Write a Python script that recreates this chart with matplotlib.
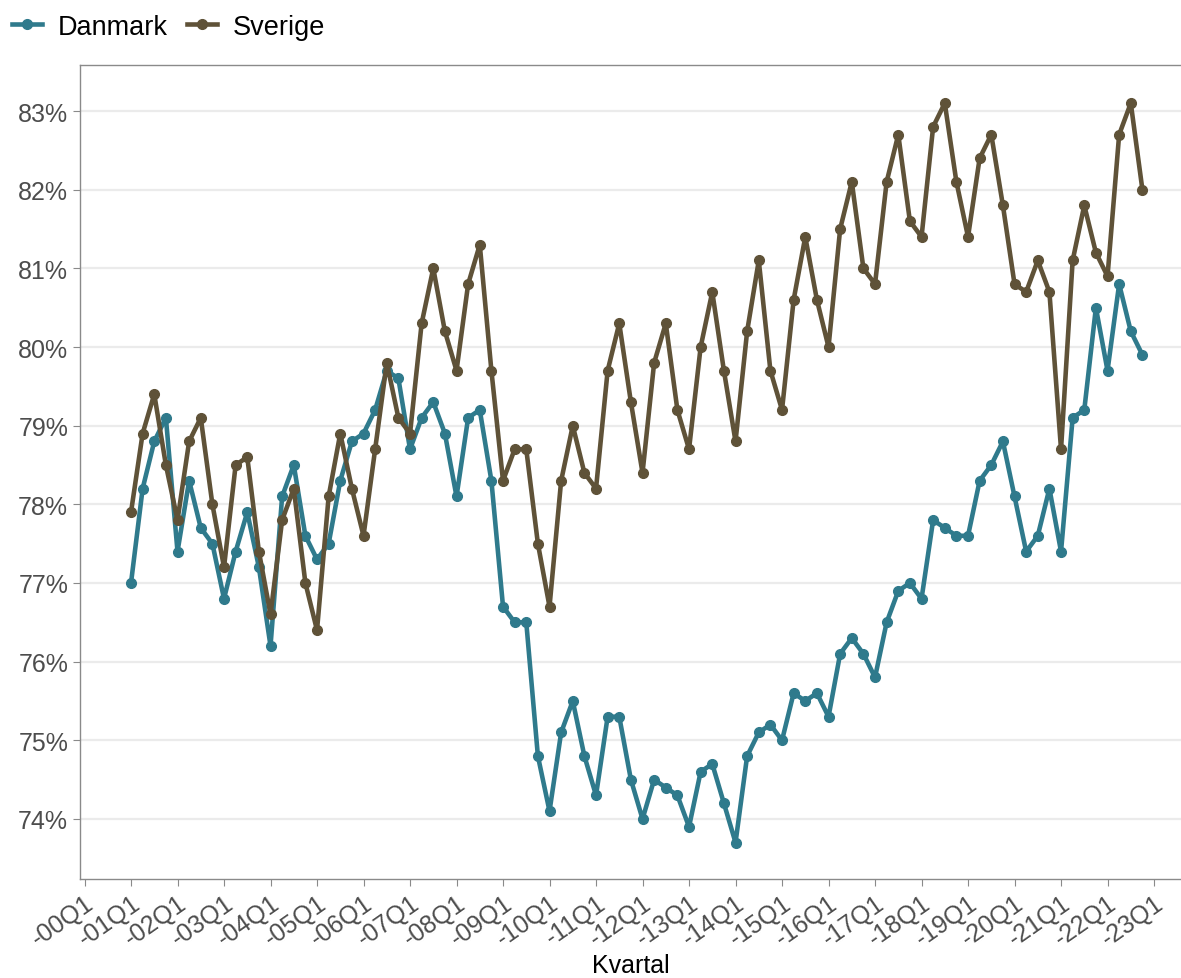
import numpy as np
import matplotlib.pyplot as plt
from matplotlib.ticker import PercentFormatter, FixedLocator

plt.rcParams['font.family'] = ['Liberation Sans', 'DejaVu Sans']

# quarterly series, 2001Q1 - 2022Q4
start_year = 2001
danmark = [77.0, 78.2, 78.8, 79.1, 77.4, 78.3, 77.7, 77.5,
           76.8, 77.4, 77.9, 77.2, 76.2, 78.1, 78.5, 77.6,
           77.3, 77.5, 78.3, 78.8, 78.9, 79.2, 79.7, 79.6,
           78.7, 79.1, 79.3, 78.9, 78.1, 79.1, 79.2, 78.3,
           76.7, 76.5, 76.5, 74.8, 74.1, 75.1, 75.5, 74.8,
           74.3, 75.3, 75.3, 74.5, 74.0, 74.5, 74.4, 74.3,
           73.9, 74.6, 74.7, 74.2, 73.7, 74.8, 75.1, 75.2,
           75.0, 75.6, 75.5, 75.6, 75.3, 76.1, 76.3, 76.1,
           75.8, 76.5, 76.9, 77.0, 76.8, 77.8, 77.7, 77.6,
           77.6, 78.3, 78.5, 78.8, 78.1, 77.4, 77.6, 78.2,
           77.4, 79.1, 79.2, 80.5, 79.7, 80.8, 80.2, 79.9]
sverige = [77.9, 78.9, 79.4, 78.5, 77.8, 78.8, 79.1, 78.0,
           77.2, 78.5, 78.6, 77.4, 76.6, 77.8, 78.2, 77.0,
           76.4, 78.1, 78.9, 78.2, 77.6, 78.7, 79.8, 79.1,
           78.9, 80.3, 81.0, 80.2, 79.7, 80.8, 81.3, 79.7,
           78.3, 78.7, 78.7, 77.5, 76.7, 78.3, 79.0, 78.4,
           78.2, 79.7, 80.3, 79.3, 78.4, 79.8, 80.3, 79.2,
           78.7, 80.0, 80.7, 79.7, 78.8, 80.2, 81.1, 79.7,
           79.2, 80.6, 81.4, 80.6, 80.0, 81.5, 82.1, 81.0,
           80.8, 82.1, 82.7, 81.6, 81.4, 82.8, 83.1, 82.1,
           81.4, 82.4, 82.7, 81.8, 80.8, 80.7, 81.1, 80.7,
           78.7, 81.1, 81.8, 81.2, 80.9, 82.7, 83.1, 82.0]
tick_years = list(range(2000, 2024))
tick_labels = ['-%02dQ1' % (y % 100) for y in tick_years]

x = start_year + np.arange(len(danmark)) / 4

teal = '#2F7A8C'
brown = '#5F5238'

fig = plt.figure(figsize=(11.81, 9.79), dpi=100)
ax = fig.add_axes([80 / 1181, 99 / 979, 1 - 80 / 1181, 814 / 979])

ax.plot(x, danmark, color=teal, lw=3.3, marker='o', ms=7, label='Danmark')
ax.plot(x, sverige, color=brown, lw=3.3, marker='o', ms=7, label='Sverige')

ax.set_xlim(1999.903, 2023.58)
ax.set_ylim(73.237, 83.585)
ax.xaxis.set_major_locator(FixedLocator(tick_years))
ax.set_xticklabels(tick_labels, rotation=35, ha='right', rotation_mode='anchor')
ax.yaxis.set_major_formatter(PercentFormatter(decimals=0))
ax.set_yticks(range(74, 84))

ax.grid(axis='y', color='#EBEBEB', lw=1.6)
ax.set_axisbelow(True)
for s in ['left', 'bottom', 'top']:
    ax.spines[s].set_color('#8A8A8A')
    ax.spines[s].set_linewidth(1.0)
ax.spines['right'].set_visible(False)
ax.tick_params(colors='#8A8A8A', labelcolor='#4D4D4D', labelsize=18, length=5)

ax.set_xlabel('Kvartal', fontsize=18, color='black', labelpad=2)

fig.legend(loc='upper left', bbox_to_anchor=(-0.0105, 1.01), ncol=2, frameon=False,
           fontsize=19.5, handlelength=1.1, columnspacing=0.7, handletextpad=0.6)

fig.savefig('out.png', dpi=100)
